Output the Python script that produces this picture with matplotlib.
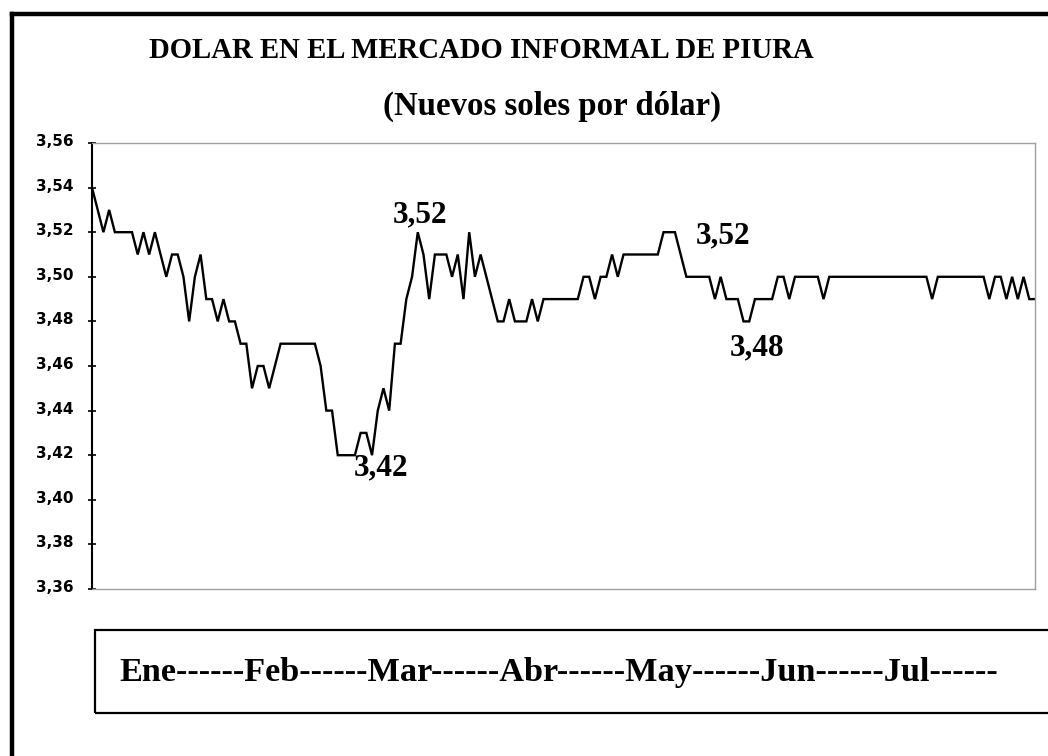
import matplotlib
matplotlib.use("Agg")
import matplotlib.pyplot as plt
from matplotlib.patches import Rectangle
from matplotlib.lines import Line2D
from matplotlib.ticker import FuncFormatter
from matplotlib.transforms import ScaledTranslation

# ---- data (daily informal-market exchange rate, Jan-Jul) ----
rates = [
    3.54, 3.53, 3.52, 3.53, 3.52, 3.52, 3.52, 3.52, 3.51, 3.52,
    3.51, 3.52, 3.51, 3.50, 3.51, 3.51, 3.50, 3.48, 3.50, 3.51,
    3.49, 3.49, 3.48, 3.49, 3.48, 3.48, 3.47, 3.47, 3.45, 3.46,
    3.46, 3.45, 3.46, 3.47, 3.47, 3.47, 3.47, 3.47, 3.47, 3.47,
    3.46, 3.44, 3.44, 3.42, 3.42, 3.42, 3.42, 3.43, 3.43, 3.42,
    3.44, 3.45, 3.44, 3.47, 3.47, 3.49, 3.50, 3.52, 3.51, 3.49,
    3.51, 3.51, 3.51, 3.50, 3.51, 3.49, 3.52, 3.50, 3.51, 3.50,
    3.49, 3.48, 3.48, 3.49, 3.48, 3.48, 3.48, 3.49, 3.48, 3.49,
    3.49, 3.49, 3.49, 3.49, 3.49, 3.49, 3.50, 3.50, 3.49, 3.50,
    3.50, 3.51, 3.50, 3.51, 3.51, 3.51, 3.51, 3.51, 3.51, 3.51,
    3.52, 3.52, 3.52, 3.51, 3.50, 3.50, 3.50, 3.50, 3.50, 3.49,
    3.50, 3.49, 3.49, 3.49, 3.48, 3.48, 3.49, 3.49, 3.49, 3.49,
    3.50, 3.50, 3.49, 3.50, 3.50, 3.50, 3.50, 3.50, 3.49, 3.50,
    3.50, 3.50, 3.50, 3.50, 3.50, 3.50, 3.50, 3.50, 3.50, 3.50,
    3.50, 3.50, 3.50, 3.50, 3.50, 3.50, 3.50, 3.49, 3.50, 3.50,
    3.50, 3.50, 3.50, 3.50, 3.50, 3.50, 3.50, 3.49, 3.50, 3.50,
    3.49, 3.50, 3.49, 3.50, 3.49, 3.49,
]
days = list(range(len(rates)))

# labelled extremes: (day index, label)
labels_pts = [(57, "3,52"), (49, "3,42"), (102, "3,52"), (114, "3,48")]
label_offsets_px = [(2, 17), (9, -13), (48, -4), (14, -27)]

y_ticks = [3.36, 3.38, 3.40, 3.42, 3.44, 3.46, 3.48, 3.50, 3.52, 3.54, 3.56]
month_axis_text = "Ene------Feb------Mar------Abr------May------Jun------Jul------"
title = "DOLAR EN EL MERCADO INFORMAL DE PIURA"
subtitle = "(Nuevos soles por dólar)"

W, H = 1048, 756
fig = plt.figure(figsize=(W / 100, H / 100), dpi=100)
fig.patch.set_facecolor("white")

L, R, T, B = 92, 1035, 143, 589
ax = fig.add_axes([L / W, 1 - B / H, (R - L) / W, (B - T) / H])
ax.plot(days, rates, color="black", lw=1.7, solid_joinstyle="miter")
ax.set_xlim(0, len(rates) - 1)
ax.set_ylim(y_ticks[0], y_ticks[-1])
ax.set_yticks(y_ticks)
ax.yaxis.set_major_formatter(FuncFormatter(lambda v, p: f"{v:.2f}".replace(".", ",")))
ax.set_xticks([])
for s in ["top", "right", "bottom"]:
    ax.spines[s].set_color("#a0a0a0")
    ax.spines[s].set_linewidth(1.0)
ax.spines["left"].set_color("black")
ax.spines["left"].set_linewidth(1.5)
ax.tick_params(axis="y", direction="inout", length=6, width=1.2, pad=10,
               labelsize=11)
shift = ScaledTranslation(0, 3 / 100, fig.dpi_scale_trans)
for lab in ax.get_yticklabels():
    lab.set_fontweight("bold")
    lab.set_family("DejaVu Sans")
    lab.set_transform(lab.get_transform() + shift)

serif = "Liberation Serif"
for (ix, txt), (dx, dy) in zip(labels_pts, label_offsets_px):
    ax.annotate(txt, xy=(ix, rates[ix]), xytext=(dx * 0.72, dy * 0.72),
                textcoords="offset points", ha="center", va="center",
                fontsize=22.5, fontweight="bold", family=serif)

fig.text(481 / W, 1 - 50 / H, title, ha="center", va="center",
         fontsize=20.7, fontweight="bold", family=serif)
fig.text(552 / W, 1 - 106 / H, subtitle, ha="center", va="center",
         fontsize=23.7, fontweight="bold", family=serif)

# lower "month" box
fig.add_artist(Rectangle((95 / W, 1 - 713 / H), 1.0, (713 - 630) / H,
                         transform=fig.transFigure, fill=False, lw=1.6,
                         ec="black", clip_on=False))
fig.text(559 / W, 1 - 672 / H, month_axis_text, ha="center", va="center",
         fontsize=24.7, fontweight="bold", family=serif)

# outer frame (left and top edges visible)
fig.add_artist(Line2D([12 / W, 12 / W], [1 - 14 / H, 0], transform=fig.transFigure,
                      color="black", lw=3.2))
fig.add_artist(Line2D([12 / W, 1], [1 - 14 / H, 1 - 14 / H], transform=fig.transFigure,
                      color="black", lw=3.2))

fig.savefig("out.png", dpi=100, facecolor="white")
